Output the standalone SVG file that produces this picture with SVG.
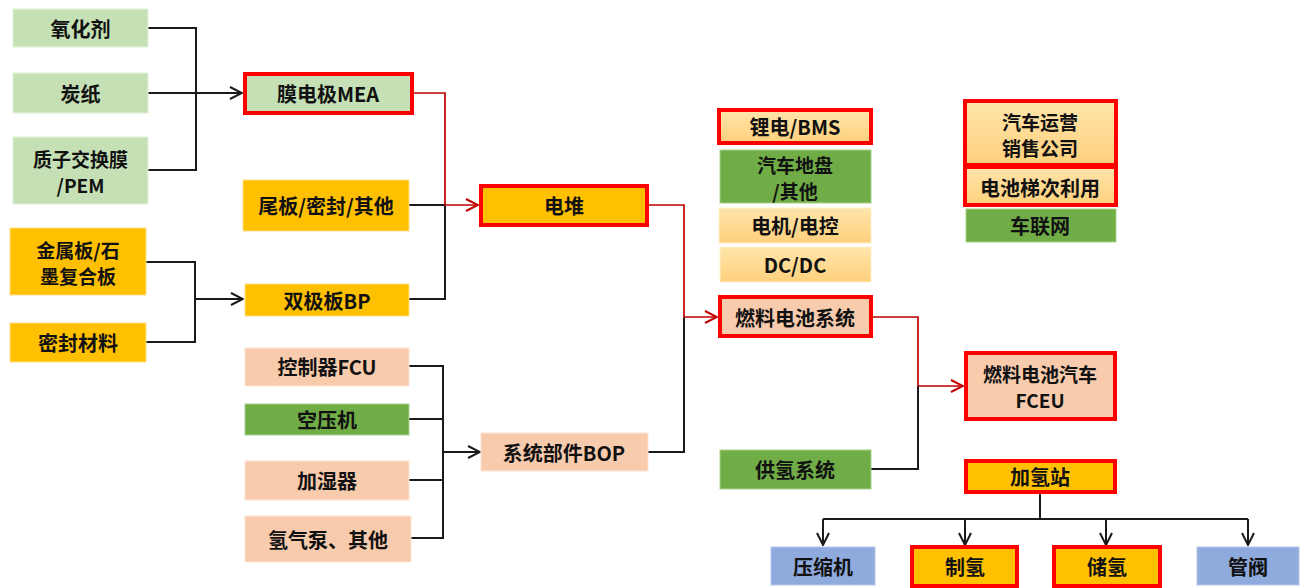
<svg xmlns="http://www.w3.org/2000/svg" width="1301" height="588" viewBox="0 0 1301 588">
<defs>
<linearGradient id="lo" x1="0" y1="0" x2="0" y2="1">
<stop offset="0" stop-color="#ffe5ab"/>
<stop offset="1" stop-color="#ffd07c"/>
</linearGradient>
<marker id="ab" viewBox="0 0 14 14" refX="13" refY="7" markerWidth="14" markerHeight="14" markerUnits="userSpaceOnUse" orient="auto">
<path d="M1,1 L13,7 L1,13" fill="none" stroke="#1a1a1a" stroke-width="2"/>
</marker>
<marker id="ar" viewBox="0 0 14 14" refX="13" refY="7" markerWidth="14" markerHeight="14" markerUnits="userSpaceOnUse" orient="auto">
<path d="M1,1 L13,7 L1,13" fill="none" stroke="#c00000" stroke-width="2"/>
</marker>
</defs>
<style>
text{font-family:"Noto Sans CJK SC","Liberation Sans",sans-serif;font-weight:bold;font-size:20px;fill:#111;text-anchor:middle;dominant-baseline:central}
text.t2{font-size:19px}
.lg{fill:#c5e0b4;stroke:#e2f0d9;stroke-width:1}
.or{fill:#ffc000;stroke:#ffe08a;stroke-width:1}
.pe{fill:#f8cbad;stroke:#fce4d6;stroke-width:1}
.gr{fill:#70ad47;stroke:#a9d18e;stroke-width:1}
.lo{fill:url(#lo);stroke:#fff2cc;stroke-width:1}
.bl{fill:#8faadc;stroke:#b4c7e7;stroke-width:1}
.rb{stroke:#ff0000;stroke-width:4}
.cb{fill:none;stroke:#1a1a1a;stroke-width:2}
.cr{fill:none;stroke:#c00000;stroke-width:1.7}
</style>
<g id="connectors">
<path class="cb" d="M148,28 H196 V170 H148"/>
<path class="cb" d="M148,93 H242" marker-end="url(#ab)"/>
<path class="cb" d="M146,262 H195 V342 H146"/>
<path class="cb" d="M195,299 H243" marker-end="url(#ab)"/>
<path class="cb" d="M409,205 H445 V299 H409"/>
<path class="cr" d="M414,93 H445 V205 H478" marker-end="url(#ar)"/>
<path class="cb" d="M409,366 H443 V538 H411"/>
<path class="cb" d="M409,419 H443"/>
<path class="cb" d="M409,480 H443"/>
<path class="cb" d="M443,452 H480" marker-end="url(#ab)"/>
<path class="cb" d="M648,452 H684 V317"/>
<path class="cr" d="M649,205 H684 V317 H717" marker-end="url(#ar)"/>
<path class="cb" d="M871,469 H918 V386"/>
<path class="cr" d="M873,317 H918 V386 H963" marker-end="url(#ar)"/>
<path class="cb" d="M1040,493 V519"/>
<path class="cb" d="M823,519 H1248"/>
<path class="cb" d="M823,519 V545" marker-end="url(#ab)"/>
<path class="cb" d="M965,519 V545" marker-end="url(#ab)"/>
<path class="cb" d="M1106,519 V545" marker-end="url(#ab)"/>
<path class="cb" d="M1248,519 V545" marker-end="url(#ab)"/>
</g>
<g id="n-yanghuaji"><rect class="lg" x="13" y="9" width="135" height="38"/><text x="80.5" y="28">氧化剂</text></g>
<g id="n-tanzhi"><rect class="lg" x="13" y="73" width="135" height="40"/><text x="80.5" y="93">炭纸</text></g>
<g id="n-pem"><rect class="lg" x="13" y="137" width="135" height="67"/><text class="t2" x="80.5" y="158">质子交换膜</text><text class="t2" x="80.5" y="184">/PEM</text></g>
<g id="n-jinshuban"><rect class="or" x="10" y="228" width="136" height="67"/><text class="t2" x="78" y="249">金属板/石</text><text class="t2" x="78" y="275">墨复合板</text></g>
<g id="n-mifengcailiao"><rect class="or" x="10" y="323" width="136" height="39"/><text x="78" y="342">密封材料</text></g>
<g id="n-mea"><rect class="lg rb" x="245" y="74" width="167" height="39"/><text x="328" y="93">膜电极MEA</text></g>
<g id="n-weiban"><rect class="or" x="243" y="180" width="166" height="51"/><text x="326" y="205">尾板/密封/其他</text></g>
<g id="n-bp"><rect class="or" x="245" y="284" width="164" height="32"/><text x="327" y="300">双极板BP</text></g>
<g id="n-fcu"><rect class="pe" x="245" y="348" width="164" height="38"/><text x="327" y="366">控制器FCU</text></g>
<g id="n-kongyaji"><rect class="gr" x="245" y="404" width="164" height="31"/><text x="327" y="419">空压机</text></g>
<g id="n-jiashiqi"><rect class="pe" x="245" y="461" width="164" height="39"/><text x="327" y="480">加湿器</text></g>
<g id="n-qingqibeng"><rect class="pe" x="245" y="516" width="166" height="46"/><text x="328" y="539">氢气泵、其他</text></g>
<g id="n-diandui"><rect class="or rb" x="481" y="186" width="166" height="39"/><text x="564" y="205">电堆</text></g>
<g id="n-bop"><rect class="pe" x="481" y="433" width="167" height="38"/><text x="564" y="452">系统部件BOP</text></g>
<g id="n-bms"><rect class="lo rb" x="719" y="110" width="152" height="33"/><text x="795" y="126">锂电/BMS</text></g>
<g id="n-dipan"><rect class="gr" x="720" y="150" width="151" height="53"/><text class="t2" x="795" y="164">汽车地盘</text><text class="t2" x="795" y="190">/其他</text></g>
<g id="n-dianji"><rect class="lo" x="719" y="208" width="152" height="35"/><text x="795" y="225">电机/电控</text></g>
<g id="n-dcdc"><rect class="lo" x="720" y="247" width="151" height="35"/><text x="795" y="264">DC/DC</text></g>
<g id="n-fcsystem"><rect class="pe rb" x="720" y="297" width="151" height="39"/><text x="795" y="317">燃料电池系统</text></g>
<g id="n-gongqing"><rect class="gr" x="720" y="450" width="151" height="39"/><text x="795" y="469">供氢系统</text></g>
<g id="n-yunying"><rect class="lo rb" x="965" y="101" width="151" height="64"/><text class="t2" x="1040" y="121">汽车运营</text><text class="t2" x="1040" y="147">销售公司</text></g>
<g id="n-tici"><rect class="lo rb" x="965" y="167" width="151" height="38"/><text x="1040" y="187">电池梯次利用</text></g>
<g id="n-chelianwang"><rect class="gr" x="966" y="209" width="150" height="33"/><text x="1040" y="225">车联网</text></g>
<g id="n-fceu"><rect class="pe rb" x="966" y="353" width="149" height="66"/><text class="t2" x="1040" y="373">燃料电池汽车</text><text class="t2" x="1040" y="399">FCEU</text></g>
<g id="n-jiaqingzhan"><rect class="or rb" x="966" y="461" width="149" height="31"/><text x="1040" y="476">加氢站</text></g>
<g id="n-yasuoji"><rect class="bl" x="771" y="547" width="104" height="38"/><text x="823" y="566">压缩机</text></g>
<g id="n-zhiqing"><rect class="or rb" x="912" y="547" width="105" height="39"/><text x="965" y="566">制氢</text></g>
<g id="n-chuqing"><rect class="or rb" x="1054" y="547" width="106" height="39"/><text x="1107" y="566">储氢</text></g>
<g id="n-guanfa"><rect class="bl" x="1197" y="547" width="102" height="38"/><text x="1248" y="566">管阀</text></g>
</svg>
